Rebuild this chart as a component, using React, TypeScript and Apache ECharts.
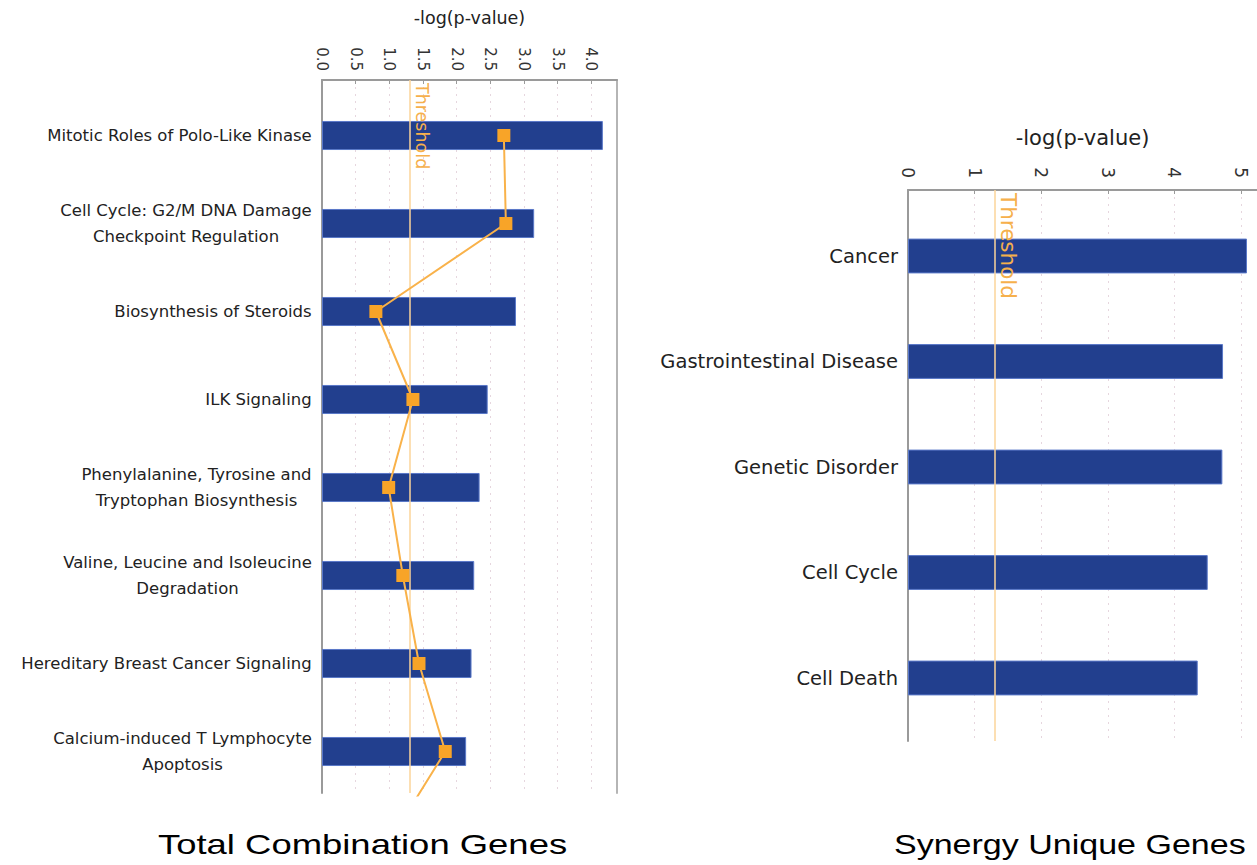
import React, { useEffect, useRef } from "react";
import * as echarts from "echarts";

const leftCategories = [
  "Mitotic Roles of Polo-Like Kinase",
  "Cell Cycle: G2/M DNA Damage\nCheckpoint Regulation",
  "Biosynthesis of Steroids",
  "ILK Signaling",
  "Phenylalanine, Tyrosine and\nTryptophan Biosynthesis",
  "Valine, Leucine and Isoleucine\nDegradation",
  "Hereditary Breast Cancer Signaling",
  "Calcium-induced T Lymphocyte\nApoptosis",
];
const leftValues = [4.17, 3.15, 2.88, 2.46, 2.34, 2.26, 2.22, 2.14];
// ratio line; the last point belongs to a category below the visible area
const leftRatio = [2.7, 2.73, 0.8, 1.35, 0.99, 1.2, 1.44, 1.83, 1.02];

const rightCategories = ["Cancer", "Gastrointestinal Disease", "Genetic Disorder", "Cell Cycle", "Cell Death"];
const rightValues = [5.09, 4.73, 4.72, 4.5, 4.35];

const threshold = 1.3;
const axisTitle = "-log(p-value)";
const leftTitle = "Total Combination Genes";
const rightTitle = "Synergy Unique Genes";

const BAR = "#223f8e";
const ORANGE = "#f8a428";
const LINE_ORANGE = "#f9b24a";
const THRESH = "#fbd49a";
const LABEL_FONT = '"DejaVu Sans", sans-serif';
const TITLE_FONT = '"Liberation Sans", Arial, sans-serif';

export default function App() {
  const ref = useRef<HTMLDivElement>(null);
  useEffect(() => {
    if (!ref.current) return;
    const chart = echarts.init(ref.current, undefined, { renderer: "svg" });

    const leftFontSize = 16.5;
    const canvas = document.createElement("canvas");
    const ctx = canvas.getContext("2d")!;
    ctx.font = `${leftFontSize}px ${LABEL_FONT}`;
    const rich: any = {};
    leftCategories.forEach((c, i) => {
      const lines = c.split("\n");
      const w = Math.ceil(Math.max(...lines.map((l) => ctx.measureText(l).width)));
      rich["c" + i] = { width: w, align: "center", fontSize: leftFontSize, fontFamily: LABEL_FONT, color: "#222", lineHeight: 26 };
    });

    const lGridL = 322, lW = 295, lMax = 4.38;
    const rGridL = 908, rMax = 5.24;

    const splitLine = { show: true, lineStyle: { color: "#e6d6de", type: [2, 5] as any, width: 1 } };
    const axisGray = { show: true, lineStyle: { color: "#9a9a9a", width: 2 } };

    const option: any = {
      animation: false,
      backgroundColor: "#fff",
      graphic: [
        { type: "text", x: 158, y: 845, scaleX: 1.35, style: { text: leftTitle, font: `27px ${TITLE_FONT}`, fill: "#000", textAlign: "left", textVerticalAlign: "middle" } },
        { type: "text", x: 894, y: 845, scaleX: 1.26, style: { text: rightTitle, font: `27px ${TITLE_FONT}`, fill: "#000", textAlign: "left", textVerticalAlign: "middle" } },
      ],
      grid: [
        { left: lGridL, top: 80, width: lW, height: 713 },
        { left: lGridL, top: 91.5, width: lW, height: 704 },
        { left: rGridL, top: 190, right: 0, height: 551 },
        { left: rGridL, top: 203.25, right: 0, height: 527.5 },
      ],
      xAxis: [
        {
          gridIndex: 0, type: "value", position: "top", min: 0, max: lMax, interval: 0.5,
          name: axisTitle, nameLocation: "middle", nameGap: 53,
          nameTextStyle: { fontFamily: LABEL_FONT, fontSize: 17.5, color: "#222" },
          axisLine: axisGray,
          axisTick: { show: true, inside: true, length: 4, lineStyle: { color: "#9a9a9a" } },
          axisLabel: { rotate: -90, margin: 9, showMaxLabel: false, fontFamily: LABEL_FONT, fontSize: 15, color: "#333", formatter: (v: number) => v.toFixed(1) },
          splitLine,
        },
        { gridIndex: 1, type: "value", min: 0, max: lMax, show: false },
        {
          gridIndex: 2, type: "value", position: "top", min: 0, max: rMax, interval: 1,
          name: axisTitle, nameLocation: "middle", nameGap: 42,
          nameTextStyle: { fontFamily: LABEL_FONT, fontSize: 21, color: "#222" },
          axisLine: axisGray,
          axisTick: { show: true, inside: true, length: 4, lineStyle: { color: "#9a9a9a" } },
          axisLabel: { rotate: -90, margin: 12, showMaxLabel: false, fontFamily: LABEL_FONT, fontSize: 17, color: "#333" },
          splitLine,
        },
        { gridIndex: 3, type: "value", min: 0, max: rMax, show: false },
      ],
      yAxis: [
        { gridIndex: 0, type: "value", inverse: true, min: 0, max: 1, axisLine: axisGray, axisTick: { show: false }, axisLabel: { show: false }, splitLine: { show: false } },
        { gridIndex: 0, type: "value", position: "right", min: 0, max: 1, axisLine: { show: true, lineStyle: { color: "#b5b5b5", width: 2 } }, axisTick: { show: false }, axisLabel: { show: false }, splitLine: { show: false } },
        {
          gridIndex: 1, type: "category", inverse: true, data: leftCategories,
          axisLine: { show: false }, axisTick: { show: false },
          axisLabel: {
            margin: 10, color: "#222", fontFamily: LABEL_FONT, fontSize: leftFontSize, lineHeight: 26,
            formatter: (v: string) => {
              const i = leftCategories.indexOf(v);
              return v.split("\n").map((l) => `{c${i}|${l}}`).join("\n");
            },
            rich,
          },
        },
        { gridIndex: 1, type: "value", inverse: true, min: -0.5, max: leftCategories.length - 0.5, show: false },
        { gridIndex: 2, type: "value", inverse: true, min: 0, max: 1, axisLine: axisGray, axisTick: { show: false }, axisLabel: { show: false }, splitLine: { show: false } },
        {
          gridIndex: 3, type: "category", inverse: true, data: rightCategories,
          axisLine: { show: false }, axisTick: { show: false },
          axisLabel: { margin: 10, color: "#222", fontFamily: LABEL_FONT, fontSize: 19.5 },
        },
      ],
      series: [
        {
          type: "line", xAxisIndex: 0, yAxisIndex: 0, data: [[threshold, 0]], symbol: "none", lineStyle: { opacity: 0 },
          markLine: {
            silent: true, symbol: "none",
            lineStyle: { color: THRESH, width: 1.5, type: "solid" },
            label: { show: true, formatter: "Threshold", position: "insideStartTop", color: "#f6b04c", fontFamily: LABEL_FONT, fontSize: 17.5, distance: 3 },
            data: [{ xAxis: threshold }],
          },
          z: 5,
        },
        {
          type: "bar", xAxisIndex: 1, yAxisIndex: 2, data: leftValues, barWidth: "33%",
          itemStyle: { color: BAR, borderColor: "#5a78c8", borderWidth: 1 }, z: 2,
        },
        {
          type: "line", xAxisIndex: 1, yAxisIndex: 3, data: leftRatio.map((v, i) => [v, i]),
          symbol: "rect", symbolSize: 13, clip: true,
          lineStyle: { color: LINE_ORANGE, width: 2 }, itemStyle: { color: ORANGE }, z: 6,
        },
        {
          type: "line", xAxisIndex: 2, yAxisIndex: 4, data: [[threshold, 0]], symbol: "none", lineStyle: { opacity: 0 },
          markLine: {
            silent: true, symbol: "none",
            lineStyle: { color: THRESH, width: 1.5, type: "solid" },
            label: { show: true, formatter: "Threshold", position: "insideStartTop", color: "#f6b04c", fontFamily: LABEL_FONT, fontSize: 21.5, distance: 3 },
            data: [{ xAxis: threshold }],
          },
          z: 5,
        },
        {
          type: "bar", xAxisIndex: 3, yAxisIndex: 5, data: rightValues, barWidth: "33%",
          itemStyle: { color: BAR, borderColor: "#5a78c8", borderWidth: 1 }, z: 2,
        },
      ],
    };
    chart.setOption(option);
    return () => chart.dispose();
  }, []);
  return <div ref={ref} style={{ position: "absolute", left: 0, top: 0, width: 1257, height: 865 }} />;
}
